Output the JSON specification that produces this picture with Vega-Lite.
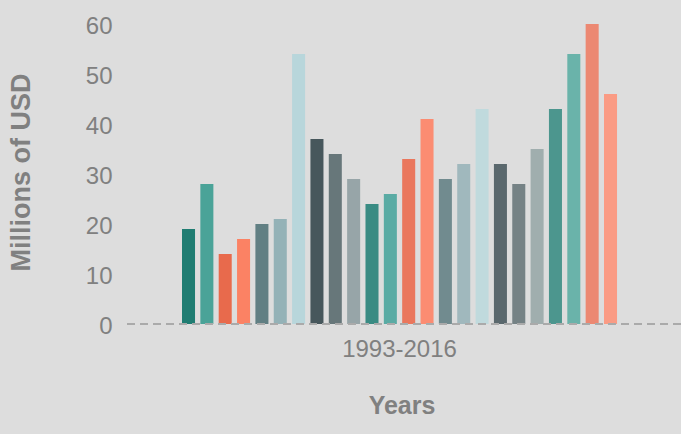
{
  "$schema": "https://vega.github.io/schema/vega-lite/v6.json",
  "width": 559,
  "height": 324,
  "autosize": "none",
  "padding": {"left": 122, "top": 0, "right": 0, "bottom": 110},
  "background": "#dddddd",
  "config": {"view": {"stroke": null}, "font": "Liberation Sans"},
  "data": {"values": [
    {"period": "1993-2016", "year": "1993", "value": 19},
    {"period": "1993-2016", "year": "1994", "value": 28},
    {"period": "1993-2016", "year": "1995", "value": 14},
    {"period": "1993-2016", "year": "1996", "value": 17},
    {"period": "1993-2016", "year": "1997", "value": 20},
    {"period": "1993-2016", "year": "1998", "value": 21},
    {"period": "1993-2016", "year": "1999", "value": 54},
    {"period": "1993-2016", "year": "2000", "value": 37},
    {"period": "1993-2016", "year": "2001", "value": 34},
    {"period": "1993-2016", "year": "2002", "value": 29},
    {"period": "1993-2016", "year": "2003", "value": 24},
    {"period": "1993-2016", "year": "2004", "value": 26},
    {"period": "1993-2016", "year": "2005", "value": 33},
    {"period": "1993-2016", "year": "2006", "value": 41},
    {"period": "1993-2016", "year": "2007", "value": 29},
    {"period": "1993-2016", "year": "2008", "value": 32},
    {"period": "1993-2016", "year": "2009", "value": 43},
    {"period": "1993-2016", "year": "2010", "value": 32},
    {"period": "1993-2016", "year": "2011", "value": 28},
    {"period": "1993-2016", "year": "2012", "value": 35},
    {"period": "1993-2016", "year": "2013", "value": 43},
    {"period": "1993-2016", "year": "2014", "value": 54},
    {"period": "1993-2016", "year": "2015", "value": 60},
    {"period": "1993-2016", "year": "2016", "value": 46}
  ]},
  "layer": [
    {
      "mark": {"type": "bar"},
      "encoding": {
        "x": {
          "field": "period", "type": "nominal", "title": "Years",
          "scale": {"paddingInner": 0, "paddingOuter": 0.1425, "align": 0.484},
          "axis": {
            "labelAngle": 0, "labelFontSize": 24, "labelColor": "#808080",
            "labelPadding": 13, "ticks": false, "tickSize": 0, "domain": false, "grid": false,
            "titleFontSize": 25, "titleFontWeight": "bold", "titleColor": "#808080", "titlePadding": 32
          }
        },
        "xOffset": {"field": "year", "type": "nominal", "scale": {"paddingInner": 0.29, "paddingOuter": 0}},
        "y": {
          "field": "value", "type": "quantitative", "title": "Millions of USD",
          "scale": {"domain": [0, 64.8], "nice": false},
          "axis": {
            "values": [0, 10, 20, 30, 40, 50, 60], "labelFontSize": 24, "labelColor": "#808080",
            "labelPadding": 10, "labelOffset": 2, "ticks": false, "tickSize": 0, "domain": false, "grid": false,
            "titleFontSize": 27, "titleFontWeight": "bold", "titleColor": "#808080", "titlePadding": 50, "titleY": 172
          }
        },
        "color": {
          "field": "year", "type": "nominal", "legend": null,
          "scale": {
            "domain": ["1993","1994","1995","1996","1997","1998","1999","2000","2001","2002","2003","2004","2005","2006","2007","2008","2009","2010","2011","2012","2013","2014","2015","2016"],
            "range": ["#207d72","#4aa398","#e86a4c","#fb8264","#617f83","#94b2b7","#b8d6db","#47575c","#67777a","#97a5a8","#398b83","#5aaba4","#ea775d","#fb8c72","#718b8f","#a0b8bd","#c0dadd","#5a686d","#758285","#a0aeae","#4c968e","#6ab3aa","#ec8872","#fa9b84"]
          }
        }
      }
    },
    {
      "data": {"values": [{"zero": 0}]},
      "mark": {"type": "rule", "strokeDash": [8, 5], "strokeWidth": 2, "color": "#aaaaaa"},
      "encoding": {"y": {"field": "zero", "type": "quantitative"}}
    }
  ]
}
